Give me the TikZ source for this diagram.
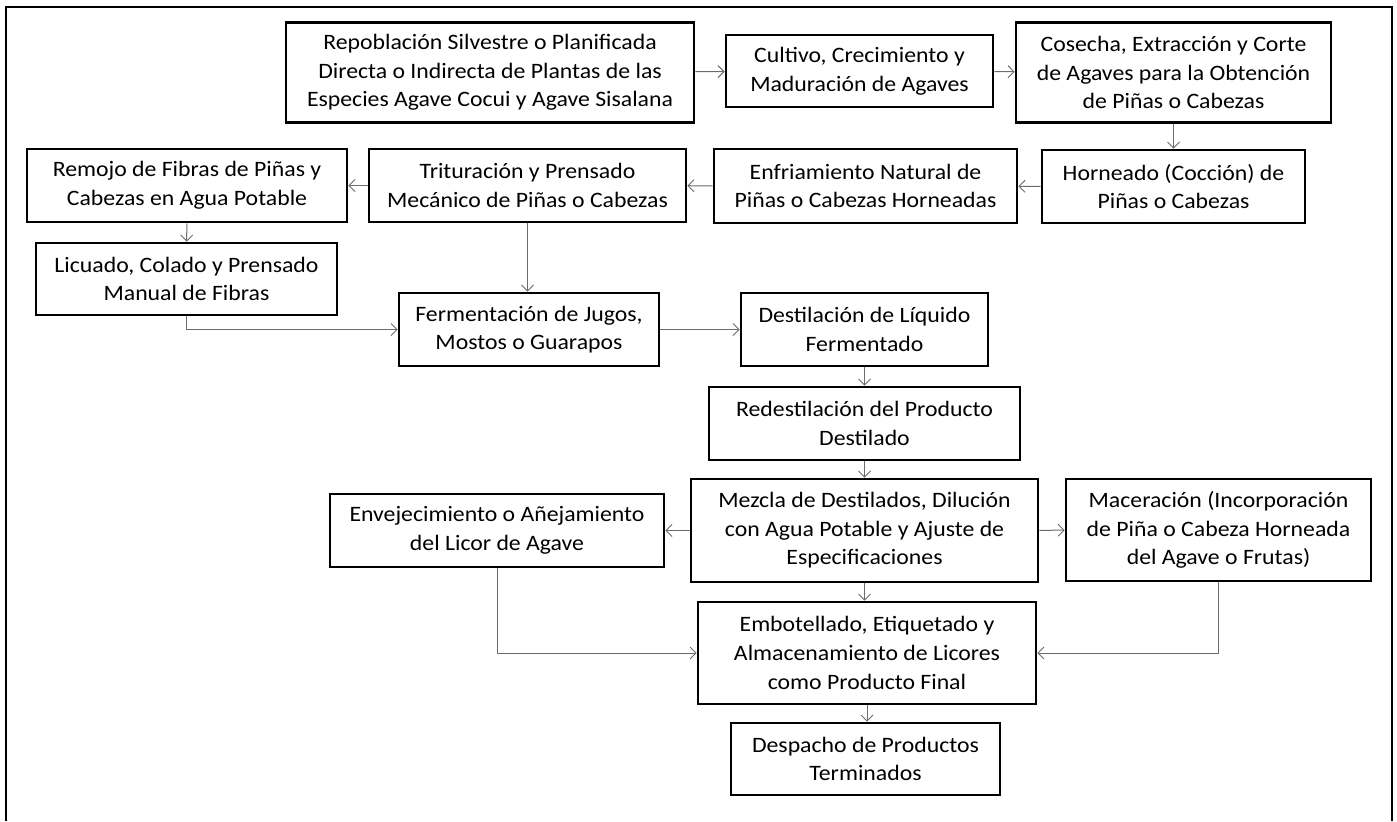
\documentclass[tikz,border=0pt]{standalone}
\usepackage{fontspec}
\setmainfont{Carlito}[FakeStretch=1.08]
\usetikzlibrary{arrows.meta}
\tikzset{
	caja/.style={draw, line width=1.3pt, inner sep=0pt, align=center, font=\fontsize{11}{14.3}\selectfont},
	flecha/.style={draw=gray!85!black, line width=0.5pt, -{Straight Barb[length=3pt,width=6pt]}}
}
\begin{document}
\begin{tikzpicture}[x=0.5pt,y=-0.5pt]
	\useasboundingbox (0,0) rectangle (1397,821);
	\draw[line width=1pt] (6,821) -- (6,7) -- (1392,7) -- (1392,821);
	\node[caja, minimum width=204pt, minimum height=50pt] (repob) at (490,72.5) {Repoblación Silvestre o Planificada\\Directa o Indirecta de Plantas de las\\Especies Agave Cocui y Agave Sisalana};
	\node[caja, minimum width=133.5pt, minimum height=36pt] (cultivo) at (859.5,71) {Cultivo, Crecimiento y\\Maduración de Agaves};
	\node[caja, minimum width=157.5pt, minimum height=50pt] (cosecha) at (1173.5,72.5) {Cosecha, Extracción y Corte\\de Agaves para la Obtención\\de Piñas o Cabezas};
	\node[caja, minimum width=131.5pt, minimum height=36.5pt] (horneado) at (1173.5,186.5) {Horneado (Cocción) de\\Piñas o Cabezas};
	\node[caja, minimum width=151.5pt, minimum height=37pt] (enfriam) at (865.5,186) {Enfriamiento Natural de\\Piñas o Cabezas Horneadas};
	\node[caja, minimum width=158.5pt, minimum height=36.5pt] (tritur) at (527.5,185.5) {Trituración y Prensado\\Mecánico de Piñas o Cabezas};
	\node[caja, minimum width=160pt, minimum height=36.5pt] (remojo) at (187,185.5) {Remojo de Fibras de Piñas y\\Cabezas en Agua Potable};
	\node[caja, minimum width=150.5pt, minimum height=36pt] (licuado) at (186.5,279) {Licuado, Colado y Prensado\\Manual de Fibras};
	\node[caja, minimum width=130pt, minimum height=36.5pt] (ferment) at (529,329.5) {Fermentación de Jugos,\\Mostos o Guarapos};
	\node[caja, minimum width=123.5pt, minimum height=36.5pt] (destil) at (864.5,329.5) {Destilación de Líquido\\Fermentado};
	\node[caja, minimum width=155.5pt, minimum height=36.5pt] (redestil) at (864.5,423.5) {Redestilación del Producto\\Destilado};
	\node[caja, minimum width=173.5pt, minimum height=51.5pt] (mezcla) at (864.5,530.5) {Mezcla de Destilados, Dilución\\con Agua Potable y Ajuste de\\Especificaciones};
	\node[caja, minimum width=167pt, minimum height=36.5pt] (envejec) at (497,530.5) {Envejecimiento o Añejamiento\\del Licor de Agave};
	\node[caja, minimum width=152.5pt, minimum height=51pt] (macerac) at (1218.5,530) {Maceración (Incorporación\\de Piña o Cabeza Horneada\\del Agave o Frutas)};
	\node[caja, minimum width=169pt, minimum height=51pt] (embot) at (867,653) {Embotellado, Etiquetado y\\Almacenamiento de Licores\\como Producto Final};
	\node[caja, minimum width=134.5pt, minimum height=36pt] (despacho) at (865.5,759) {Despacho de Productos\\Terminados};
	\draw[flecha] (repob) -- (cultivo);
	\draw[flecha] (cultivo) -- (cosecha);
	\draw[flecha] (cosecha) -- (horneado);
	\draw[flecha] (horneado) -- (enfriam);
	\draw[flecha] (enfriam) -- (tritur);
	\draw[flecha] (tritur) -- (remojo);
	\draw[flecha] (remojo) -- (licuado);
	\draw[flecha] (tritur.south) -- (tritur.south |- ferment.north);
	\draw[flecha] (licuado.south) |- (ferment.west);
	\draw[flecha] (ferment) -- (destil);
	\draw[flecha] (destil) -- (redestil);
	\draw[flecha] (redestil) -- (mezcla);
	\draw[flecha] (mezcla) -- (envejec);
	\draw[flecha] (mezcla) -- (macerac);
	\draw[flecha] (mezcla.south) -- (mezcla.south |- embot.north);
	\draw[flecha] (envejec.south) |- (embot.west);
	\draw[flecha] (macerac.south) |- (embot.east);
	\draw[flecha] (embot.south) -- (embot.south |- despacho.north);
\end{tikzpicture}
\end{document}
